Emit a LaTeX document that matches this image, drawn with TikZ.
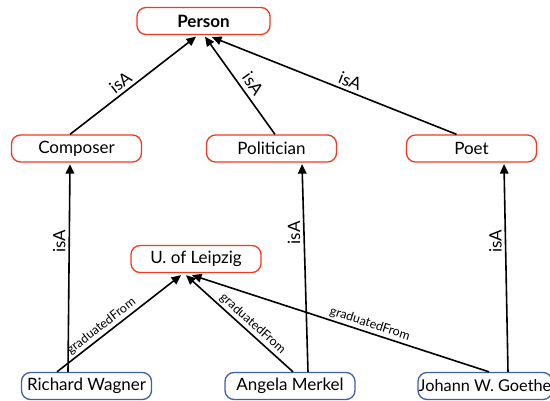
\documentclass[tikz,border=0pt]{standalone}
\usepackage{fontspec}
\setmainfont{Lato}
\usetikzlibrary{arrows.meta}
\definecolor{classred}{RGB}{240,58,30}
\definecolor{instblue}{RGB}{60,95,170}
\tikzset{
  box/.style={draw, rounded corners=9pt, line width=1.3pt, fill=white,
    minimum width=130pt, minimum height=27pt, inner sep=0pt,
    font=\fontsize{17}{19}\selectfont},
  classbox/.style={box, draw=classred},
  instbox/.style={box, draw=instblue},
  rel/.style={line width=1.6pt, -{Triangle[length=9.5pt,width=8.5pt]}},
  lbl/.style={sloped, above, inner sep=3pt, font=\fontsize{17}{19}\selectfont},
  vlbl/.style={rotate=90, anchor=south, inner sep=3pt, font=\fontsize{17}{19}\selectfont},
  glbl/.style={sloped, above, inner sep=2pt, font=\fontsize{12.5}{14}\selectfont}
}
\begin{document}
\begin{tikzpicture}[x=1pt,y=-1pt]
\useasboundingbox (0,0) rectangle (550,401);
\node[classbox, minimum width=133pt, font=\fontsize{17}{19}\selectfont\bfseries] (person) at (203.5,21) {Person};
\node[classbox] (composer) at (76.5,148.5) {Composer};
\node[classbox] (politician) at (271.5,148.5) {Politician};
\node[classbox] (poet) at (471.5,148.5) {Poet};
\node[classbox] (leipzig) at (196,259) {U. of Leipzig};
\node[instbox] (wagner) at (86.5,386) {Richard Wagner};
\node[instbox] (merkel) at (290,386) {Angela Merkel};
\node[instbox, minimum width=134pt, font=\fontsize{16.3}{18}\selectfont] (goethe) at (485,386) {Johann W. Goethe};

\draw[rel] ([xshift=-6.5pt]composer.north) -- node[lbl, pos=0.45] {isA} ([xshift=-7.5pt,yshift=-1.5pt]person.south);
\draw[rel] ([xshift=3.5pt]politician.north) -- node[lbl, pos=0.45, inner sep=4.5pt] {isA} ([xshift=1.5pt,yshift=-1.5pt]person.south);
\draw[rel] ([xshift=-15pt]poet.north) -- node[lbl, pos=0.45] {isA} ([xshift=8.5pt,yshift=-2pt]person.south);

\draw[rel] ([xshift=-18.5pt]wagner.north) -- node[vlbl, pos=0.63] {isA} ([xshift=-6.5pt,yshift=-1.5pt]composer.south);
\draw[rel] ([xshift=18pt]merkel.north) -- node[vlbl, pos=0.67] {isA} ([xshift=30.5pt,yshift=-1.5pt]politician.south);
\draw[rel] ([xshift=23pt]goethe.north) -- node[vlbl, pos=0.63] {isA} ([xshift=32.5pt,yshift=-1.5pt]poet.south);

\draw[rel] ([xshift=-29.5pt]wagner.north) -- node[glbl, pos=0.4] {graduatedFrom} ([xshift=-15pt,yshift=-2pt]leipzig.south);
\draw[rel] ([xshift=3pt]merkel.north) -- node[glbl, pos=0.43] {graduatedFrom} ([xshift=-10pt,yshift=-2pt]leipzig.south);
\draw[rel] ([xshift=4pt]goethe.north) -- node[glbl, pos=0.41] {graduatedFrom} ([xshift=-4pt,yshift=-2pt]leipzig.south);
\end{tikzpicture}
\end{document}
